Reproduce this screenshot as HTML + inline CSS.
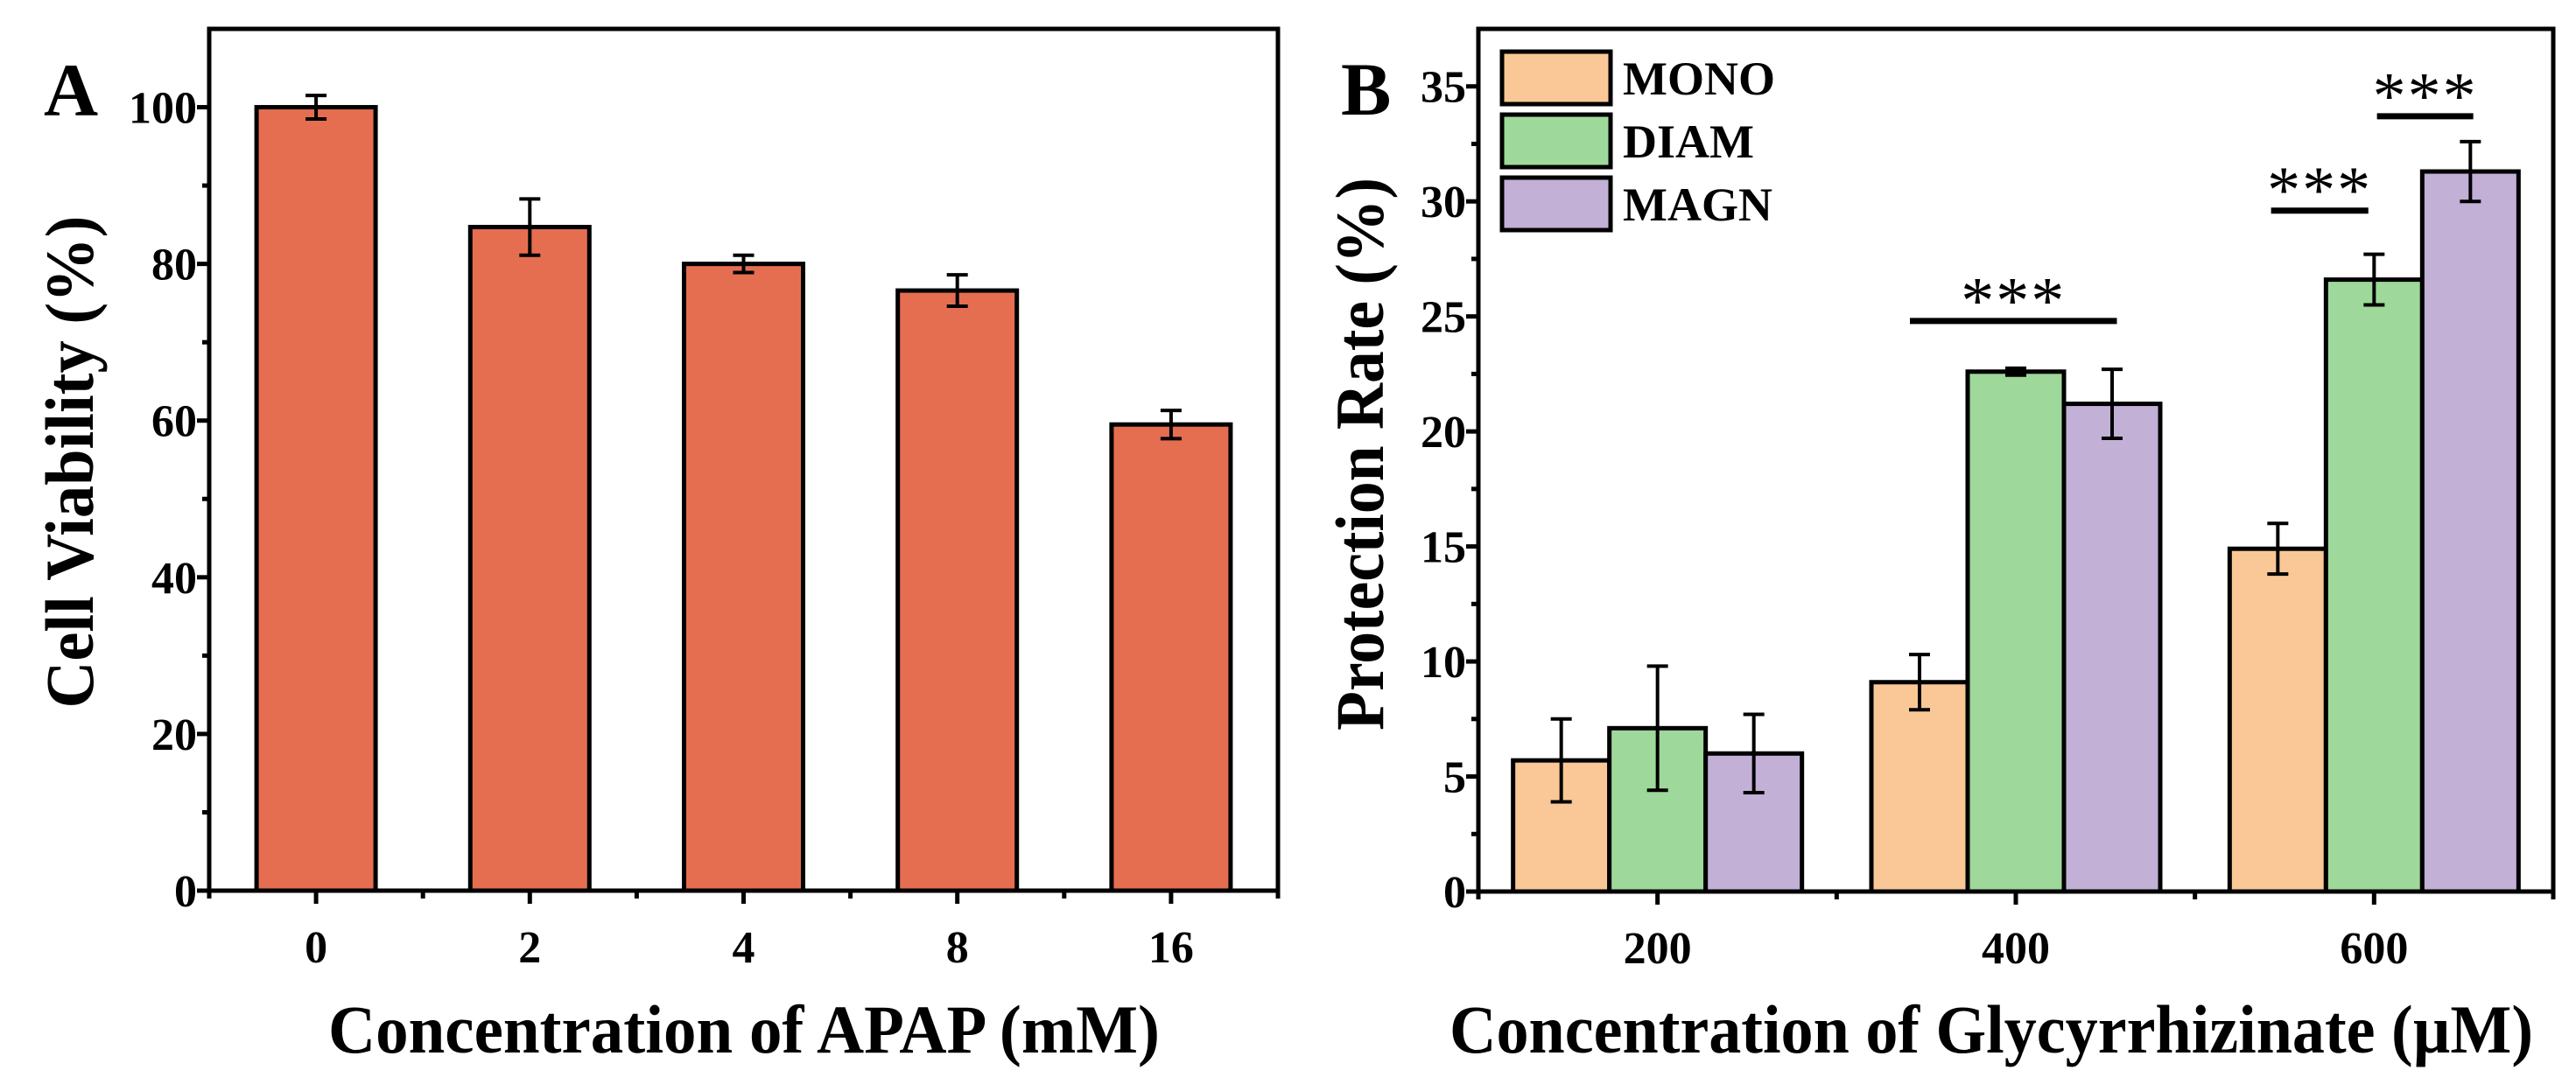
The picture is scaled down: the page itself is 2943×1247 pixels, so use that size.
<!DOCTYPE html>
<html><head><meta charset="utf-8">
<style>
html,body{margin:0;padding:0;background:#fff;}
svg{display:block;font-family:"Liberation Serif",serif;font-weight:bold;}
</style></head>
<body>
<svg id="fig" width="2943" height="1247" viewBox="0 0 2943 1247" xmlns="http://www.w3.org/2000/svg">
<g id="panelA"></g>
<g id="panelB"></g>
</svg>
<script>
// ---- Panel A data ----
const aCategories = ["0","2","4","8","16"];
const aValues = [100, 84.7, 80.0, 76.6, 59.5];
const aErrors = [1.5, 3.6, 1.1, 2.0, 1.8];
const aYTicks = [0,20,40,60,80,100];
// ---- Panel B data ----
const bCategories = ["200","400","600"];
const bSeries = ["MONO","DIAM","MAGN"];
const bMono = [5.7, 9.1, 14.9];
const bDiam = [7.1, 22.6, 26.6];
const bMagn = [6.0, 21.2, 31.3];
const bMonoErr = [1.8, 1.2, 1.1];
const bDiamErr = [2.7, 0.15, 1.1];
const bMagnErr = [1.7, 1.5, 1.3];
const bYTicks = [0,5,10,15,20,25,30,35];
// significance brackets: category index, start/end in bar-width units from category centre, height value
const sigCategory = [1, 2, 2];
const sigStart = [-1.1, -1.07, 0.03];
const sigEnd = [1.05, -0.06, 1.03];
const sigLevel = [24.8, 29.6, 33.7];
const sigLabels = ["***","***","***"];

const NS="http://www.w3.org/2000/svg";
function el(parent,tag,attrs,text){const e=document.createElementNS(NS,tag);for(const k in attrs)e.setAttribute(k,attrs[k]);if(text!==undefined)e.textContent=text;parent.appendChild(e);return e;}

// ===== Panel A =====
(function(){
  const g=document.getElementById('panelA');
  const L=239,R=1460,T=33,B=1018,yMax=110;
  const y=v=>B-(v/yMax)*(B-T);
  const band=(R-L)/aCategories.length;
  const x=i=>L+band*(i+0.5);
  const bw=136;
  aValues.forEach((v,i)=>{
    const r=el(g,'rect',{x:x(i)-bw/2,y:y(v),width:bw,height:B-y(v),fill:'#E56E51',stroke:'#000','stroke-width':5});
    
    
    const e=aErrors[i];
    const eg=el(g,'g',{stroke:'#000','stroke-width':4});
    
    
    el(eg,'line',{x1:x(i),x2:x(i),y1:y(v+e),y2:y(v-e)});
    el(eg,'line',{x1:x(i)-12,x2:x(i)+12,y1:y(v+e),y2:y(v+e)});
    el(eg,'line',{x1:x(i)-12,x2:x(i)+12,y1:y(v-e),y2:y(v-e)});
  });
  const ax=el(g,'g',{stroke:'#000','stroke-width':5,fill:'none'});
  
  
  el(ax,'rect',{x:L,y:T,width:R-L,height:B-T});
  aYTicks.forEach(t=>{
    el(ax,'line',{x1:L-14,x2:L,y1:y(t),y2:y(t)});
    const lb=el(g,'text',{x:L-14,y:y(t)+18,'text-anchor':'end','font-size':52},String(t));
    
    
  });
  for(let t=10;t<yMax;t+=20){el(ax,'line',{x1:L-8,x2:L,y1:y(t),y2:y(t)});}
  aCategories.forEach((c,i)=>{
    el(ax,'line',{x1:x(i),x2:x(i),y1:B,y2:B+15});
    const lb=el(g,'text',{x:x(i),y:B+82,'text-anchor':'middle','font-size':52},c);
    
    
  });
  for(let i=0;i<=aCategories.length;i++){el(ax,'line',{x1:L+band*i,x2:L+band*i,y1:B,y2:B+9});}
  const xt=el(g,'text',{x:850,y:1203,'text-anchor':'middle','font-size':78,textLength:950,lengthAdjust:'spacingAndGlyphs'},'Concentration of APAP (mM)');
  
  
  const yt=el(g,'text',{x:0,y:0,'text-anchor':'middle','font-size':78,transform:'translate(106,528) rotate(-90)',textLength:563,lengthAdjust:'spacingAndGlyphs'},'Cell Viability (%)');
  
  
  const pl=el(g,'text',{x:50,y:132,'font-size':86},'A');
  
  
})();

// ===== Panel B =====
(function(){
  const g=document.getElementById('panelB');
  const L=1689,R=2917,T=33,B=1019,yMax=37.5;
  const y=v=>B-(v/yMax)*(B-T);
  const band=(R-L)/bCategories.length;
  const x=i=>L+band*(i+0.5);
  const bw=110;
  const vals=[bMono,bDiam,bMagn];
  const errs=[bMonoErr,bDiamErr,bMagnErr];
  const colors=['#F9C896','#9ED89A','#C2B0D6'];
  const bx=(i,s)=>x(i)+(s-1)*bw;
  vals.forEach((arr,s)=>{
    arr.forEach((v,i)=>{
      const r=el(g,'rect',{x:bx(i,s)-bw/2,y:y(v),width:bw,height:B-y(v),fill:colors[s],stroke:'#000','stroke-width':5});
      
      
      const e=errs[s][i];
      const eg=el(g,'g',{stroke:'#000','stroke-width':4});
      
      
      el(eg,'line',{x1:bx(i,s),x2:bx(i,s),y1:y(v+e),y2:y(v-e)});
      el(eg,'line',{x1:bx(i,s)-12,x2:bx(i,s)+12,y1:y(v+e),y2:y(v+e)});
      el(eg,'line',{x1:bx(i,s)-12,x2:bx(i,s)+12,y1:y(v-e),y2:y(v-e)});
    });
  });
  sigCategory.forEach((c,k)=>{
    const x1=x(c)+sigStart[k]*bw;
    const x2=x(c)+sigEnd[k]*bw;
    const sgp=el(g,'g',{});
    
    
    el(sgp,'line',{x1:x1,x2:x2,y1:y(sigLevel[k]),y2:y(sigLevel[k]),stroke:'#000','stroke-width':7});
    el(sgp,'text',{x:(x1+x2)/2,y:y(sigLevel[k])+2,'text-anchor':'middle','font-size':76,'font-weight':'normal','letter-spacing':2},sigLabels[k]);
  });
  const ax=el(g,'g',{stroke:'#000','stroke-width':5,fill:'none'});
  
  
  el(ax,'rect',{x:L,y:T,width:R-L,height:B-T});
  bYTicks.forEach(t=>{
    el(ax,'line',{x1:L-14,x2:L,y1:y(t),y2:y(t)});
    const lb=el(g,'text',{x:L-14,y:y(t)+18,'text-anchor':'end','font-size':52},String(t));
    
    
  });
  for(let t=2.5;t<yMax;t+=5){el(ax,'line',{x1:L-8,x2:L,y1:y(t),y2:y(t)});}
  bCategories.forEach((c,i)=>{
    el(ax,'line',{x1:x(i),x2:x(i),y1:B,y2:B+15});
    const lb=el(g,'text',{x:x(i),y:B+82,'text-anchor':'middle','font-size':52},c);
    
    
  });
  for(let i=0;i<=bCategories.length;i++){el(ax,'line',{x1:L+band*i,x2:L+band*i,y1:B,y2:B+9});}
  // legend
  const lg=el(g,'g',{});
  
  
  const ly=[59,131,203];
  bSeries.forEach((s,k)=>{
    const le=el(lg,'g',{});
    
    
    el(le,'rect',{x:1716,y:ly[k],width:124,height:60,fill:colors[k],stroke:'#000','stroke-width':5});
    el(le,'text',{x:1854,y:ly[k]+49,'font-size':54},s);
  });
  const xt=el(g,'text',{x:2275,y:1203,'text-anchor':'middle','font-size':78,textLength:1238,lengthAdjust:'spacingAndGlyphs'},'Concentration of Glycyrrhizinate (µM)');
  
  
  const yt=el(g,'text',{x:0,y:0,'text-anchor':'middle','font-size':78,transform:'translate(1580,519) rotate(-90)',textLength:632,lengthAdjust:'spacingAndGlyphs'},'Protection Rate (%)');
  
  
  const pl=el(g,'text',{x:1532,y:131,'font-size':86},'B');
  
  
})();
</script>
</body></html>
